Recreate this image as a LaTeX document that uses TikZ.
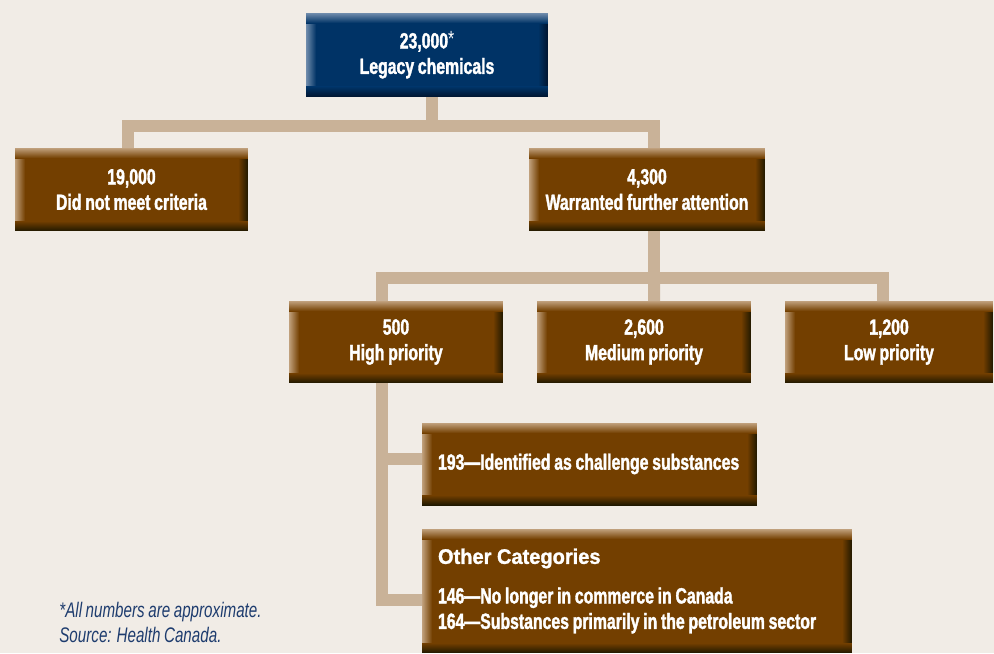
\documentclass[tikz,border=0pt]{standalone}
\usepackage{fontspec}
\setmainfont{Liberation Sans}[FakeStretch=0.72, WordSpace=0.85,
    BoldFeatures={FakeBold=1.6}]
\newfontfamily\headfont{Liberation Sans}[FakeStretch=0.95,
    BoldFeatures={FakeBold=1.4}]
\usetikzlibrary{backgrounds,positioning}

\definecolor{paper}{RGB}{241,236,230}
\definecolor{linktan}{RGB}{201,178,152}
\definecolor{boxbrown}{RGB}{115,63,0}
\definecolor{brownlight}{RGB}{192,160,124}
\definecolor{browndark}{RGB}{32,24,0}
\definecolor{boxblue}{RGB}{0,51,102}
\definecolor{bluelight}{RGB}{112,140,172}
\definecolor{bluedark}{RGB}{0,20,46}
\definecolor{noteblue}{RGB}{30,60,110}

\newcommand\boxfont{\fontsize{12.5}{14.5}\selectfont\bfseries}

\tikzset{
    bevel/.style n args={3}{path picture={
        \path (path picture bounding box.south west) coordinate (sw)
              (path picture bounding box.south east) coordinate (se)
              (path picture bounding box.north west) coordinate (nw)
              (path picture bounding box.north east) coordinate (ne);
        \shade[left color=#1, right color=#2] (sw) rectangle ([xshift=0.2cm]nw);
        \shade[left color=#2, right color=#3] ([xshift=-0.2cm]se) rectangle (ne);
        \shade[top color=#1, bottom color=#2] ([yshift=-0.2cm]nw) rectangle (ne);
        \shade[top color=#2, bottom color=#3] (sw) rectangle ([yshift=0.2cm]se);
    }},
    box/.style={text=white, font=\boxfont, align=center, inner sep=0pt,
        minimum height=1.66cm},
    brownbox/.style={box, fill=boxbrown, bevel={brownlight}{boxbrown}{browndark}},
    bluebox/.style={box, fill=boxblue, bevel={bluelight}{boxblue}{bluedark}},
    listbox/.style={brownbox, align=flush left, inner xsep=0.32cm},
    link/.style={draw=linktan, line width=0.24cm},
}

\begin{document}
\begin{tikzpicture}[x=0.02cm, y=-0.02cm]
    \useasboundingbox (0,0) rectangle (994,653);

    \node[bluebox, minimum width=4.84cm, minimum height=1.68cm] (legacy) at (427,55)
        {23,000{\mdseries\raisebox{1pt}{*}}\\Legacy chemicals};

    \node[brownbox, minimum width=4.66cm] (notmet) at (131.5,189.5)
        {19,000\\Did not meet criteria};
    \node[brownbox, minimum width=4.72cm] (warranted) at (647,189.5)
        {4,300\\Warranted further attention};

    \foreach \nm/\x/\w/\num/\lbl in {high/396/4.28/500/High priority,
                                   medium/644/4.28/{2,600}/Medium priority,
                                   low/889/4.16/{1,200}/Low priority}
        \node[brownbox, minimum width=\w cm, minimum height=1.64cm] (\nm) at (\x,342)
            {\num\\\lbl};

    \node[listbox, text width=6.06cm, minimum height=1.64cm] (challenge) at (589.5,464)
        {193---Identified as challenge substances};
    \node[listbox, text width=7.96cm, minimum height=2.48cm] (other) at (637,591)
        {{\headfont\fontsize{12}{12}\selectfont Other Categories}\\[8pt]
         146---No longer in commerce in Canada\\
         164---Substances primarily in the petroleum sector};

    %% footnote
    \node[anchor=north west, align=left, inner sep=0pt, text=noteblue,
          font=\fontsize{12}{14.2}\selectfont\itshape] (note) at (59,602)
        {*All numbers are approximate.\\Source: Health Canada.};

    %% connectors go behind the boxes
    \begin{scope}[on background layer]
        \fill[paper] (0,0) rectangle (994,653);
        \draw[link] (legacy) ++(5,0) -- ++(0,70.5) coordinate (bus1);
        \draw[link] (notmet) ++(-4,0) |- (bus1) -| ([xshift=0.14cm]warranted.center);
        \draw[link] (warranted) ++(7,0) -- ++(0,88.5) coordinate (bus2);
        \draw[link] (high) ++(-14,0) coordinate (trunk) |- (bus2)
            -| ([xshift=-0.12cm]low.center);
        \draw[link] (bus2) -- ([xshift=0.2cm]medium.center);
        \draw[link] (trunk) |- ([yshift=-0.18cm]other.west);
        \draw[link] ([yshift=0.1cm]challenge.west) -| (trunk);
    \end{scope}
\end{tikzpicture}
\end{document}
